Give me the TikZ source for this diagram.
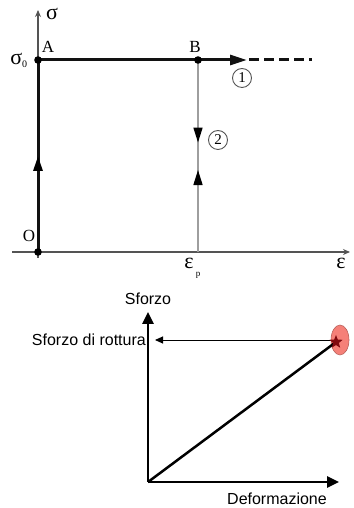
\documentclass[tikz,border=0pt]{standalone}
\usepackage{fontspec}
\setmainfont{Liberation Serif}
\newfontfamily\sforzofont{Liberation Sans}
\usepackage{tkz-euclide}
\usetikzlibrary{arrows.meta,decorations.markings,shapes.geometric}
\definecolor{AxisClr}{rgb}{0.33,0.33,0.33}
\definecolor{LoadClr}{rgb}{0.07,0.07,0.07}
\definecolor{UnloadClr}{rgb}{0.62,0.62,0.62}
\definecolor{BreakClr}{rgb}{0.96,0.50,0.47}
\definecolor{StarClr}{rgb}{0.50,0.04,0.06}

\begin{document}
\begin{tikzpicture}[x=1pt,y=1pt,
  axis/.style={line width=1.5pt,color=AxisClr},
  load/.style={line width=3pt,color=LoadClr},
  unload/.style={line width=1.5pt,color=UnloadClr},
  midarrow/.style={postaction={decorate,decoration={markings,
    mark=at position #1 with {\arrow[black]{Triangle[length=15pt,width=9pt]}}}}},
  midback/.style={postaction={decorate,decoration={markings,
    mark=at position #1 with {\arrowreversed[black]{Triangle[length=15pt,width=9pt]}}}}},
  greek/.style={font=\fontsize{22}{22}\selectfont,inner sep=0pt},
  letter/.style={font=\fontsize{17}{17}\selectfont,inner sep=0pt},
  circnum/.style={circle,draw=AxisClr,line width=.9pt,minimum size=19pt,inner sep=0pt,
    font=\fontsize{15}{15}\selectfont},
  bigaxis/.style={line width=2.5pt,color=black},
  sforzo/.style={font=\fontsize{16}{18}\selectfont\sforzofont,inner sep=0pt}]
\useasboundingbox (0,0) rectangle (353,508);

\tkzDefPoints{38/256/O,38/448/A,198/448/B,198/256/P,38/498/Stop,38/250/Sbot,
  12/256/Eleft,350/256/Eright,247/448/C,249/448/Dstart,312/448/Dend}

\draw[axis,-{Stealth[length=7pt,width=6pt]}] (Sbot) -- (Stop);
\draw[axis,-{Stealth[length=7pt,width=6pt]}] (Eleft) -- (Eright);

\draw[unload,midarrow=0.43,midback=0.573] (B) -- (P);
\draw[load,midarrow=0.5] (O) -- (A);
\draw[load,-{Triangle[length=17pt,width=10pt]}] (A) -- (C);
\draw[load,dash pattern=on 10pt off 5pt] (Dstart) -- (Dend);

\foreach \pt in {O,A,B}
  \fill[black] (\pt) circle (3.8);

\node[greek] (sigma) at (52,494) {σ};
\node[greek] (sigmazero) at (19,448) {σ\textsubscript{\fontsize{10}{10}\selectfont 0}};
\node[letter] (labA) at (48,461) {A};
\node[letter] (labB) at (195,461) {B};
\node[letter] (labO) at (29,272) {O};
\node[greek] (epsp) at (189,245) {ε};
\node[letter,font=\fontsize{9}{9}\selectfont] (epspsub) at (198,233) {p};
\node[greek] (eps) at (341,245) {ε};
\node[circnum] (one) at (242,430) {1};
\node[circnum] (two) at (218,368) {2};

\tkzDefPoints{148/26/Q,148/196/Ytip,339/26/Xtip,155/168/Ltip,336/166/K}

\draw[bigaxis,-{Triangle[length=12pt,width=11pt]}] (Q) -- (Ytip);
\draw[bigaxis,-{Triangle[length=12pt,width=11pt]}] (Q) -- (Xtip);

\node[ellipse,fill=BreakClr,draw=BreakClr!75!black,line width=.6pt,
  minimum width=18pt,minimum height=30pt,inner sep=0pt] (R) at (340,168) {};
\draw[line width=.9pt,-{Triangle[length=8pt,width=7pt]}] (R.west) -- (Ltip);
\draw[bigaxis] (Q) -- (K);
\node[star,star points=5,star point ratio=2.3,fill=StarClr,minimum size=14pt,
  inner sep=0pt] (star) at (K) {};

\node[sforzo] (sf) at (148,209) {Sforzo};
\node[sforzo,anchor=east] (rott) at (146,168) {Sforzo di rottura};
\node[sforzo] (def) at (277,9) {Deformazione};

\end{tikzpicture}
\end{document}
